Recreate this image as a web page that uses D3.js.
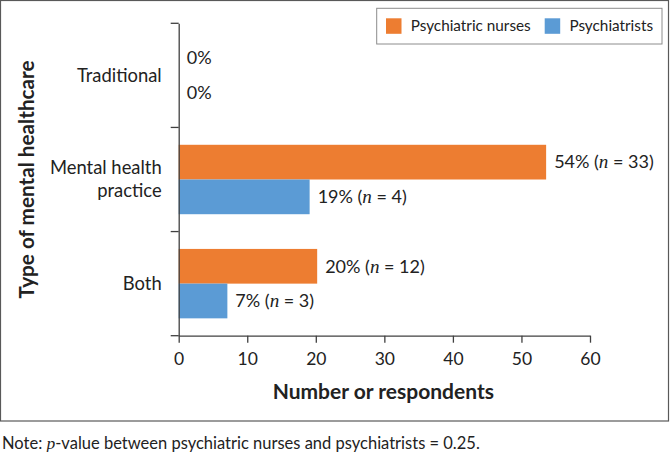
<!DOCTYPE html>
<html>
<head>
<meta charset="utf-8">
<script src="https://cdn.jsdelivr.net/npm/d3@7"></script>
<style>
  body { margin: 0; background: #fff; }
  text { font-family: Lato, "Open Sans", sans-serif; fill: #222; }
</style>
</head>
<body>
<svg id="chart" width="670" height="452"></svg>
<script>
// ---- data ----
const categories = ["Traditional", "Mental health practice", "Both"];
const categoryLines = [["Traditional"], ["Mental health", "practice"], ["Both"]];
const series = ["Psychiatric nurses", "Psychiatrists"];
const nursesValues = [0, 53.6, 20.2];
const psychiatristsValues = [0, 19.1, 7.1];
const nursesPct = [0, 54, 20];
const nursesN = [null, 33, 12];
const psychiatristsPct = [0, 19, 7];
const psychiatristsN = [null, 4, 3];
const xTicks = [0, 10, 20, 30, 40, 50, 60];
const colors = ["#ED7D31", "#5B9BD5"];

const svg = d3.select("#chart");

// frame
svg.append("rect").attr("x", 0.5).attr("y", 0.5).attr("width", 668).attr("height", 420.5)
  .attr("fill", "none").attr("stroke", "#595959").attr("stroke-width", 1.2);

const x = d3.scaleLinear().domain([0, 60]).range([178.7, 590]);
const y = d3.scaleBand().domain(categories).range([23.3, 335.7]).paddingInner(0).paddingOuter(0);
const sub = d3.scaleBand().domain(series).range([0, y.bandwidth()]).paddingInner(0).paddingOuter(0.5);

const rows = categories.map((c, i) => ({
  cat: c,
  vals: [
    { s: series[0], v: nursesValues[i], pct: nursesPct[i], n: nursesN[i] },
    { s: series[1], v: psychiatristsValues[i], pct: psychiatristsPct[i], n: psychiatristsN[i] }
  ]
}));

const g = svg.append("g");
const groups = g.selectAll("g.cat").data(rows).join("g")
  .attr("transform", d => `translate(0,${y(d.cat)})`);

groups.selectAll("rect").data(d => d.vals).join("rect")
  .attr("x", x(0))
  .attr("y", d => sub(d.s))
  .attr("width", d => x(d.v) - x(0))
  .attr("height", sub.bandwidth())
  .attr("fill", (d, i) => colors[i]);

const lbl = groups.selectAll("text.val").data(d => d.vals).join("text")
  .attr("class", "val")
  .attr("x", d => x(d.v) + 8)
  .attr("y", d => sub(d.s) + sub.bandwidth() / 2)
  .attr("dy", "0.35em")
  .style("font-size", "18px");
lbl.append("tspan").text(d => d.pct + "%" + (d.n != null ? " (" : ""));
lbl.filter(d => d.n != null).append("tspan")
  .style("font-family", "'Liberation Serif', 'DejaVu Serif', serif")
  .style("font-style", "italic").style("font-size", "19px").text("n");
lbl.filter(d => d.n != null).append("tspan").text(d => " = " + d.n + ")");

// y axis
const axisColor = "#404040";
const yAx = svg.append("g").attr("transform", `translate(${x(0)},0)`)
  .call(d3.axisLeft(y).tickSize(0).tickFormat(""));
yAx.select(".domain").attr("stroke", axisColor).attr("stroke-width", 1.3);
const bounds = categories.map(c => y(c)).concat([y.range()[1]]);
yAx.selectAll("line.bt").data(bounds).join("line").attr("class", "bt")
  .attr("x1", -8).attr("x2", 0).attr("y1", d => d).attr("y2", d => d)
  .attr("stroke", axisColor).attr("stroke-width", 1.3);

// category labels
const catLbl = svg.append("g").selectAll("text").data(categories).join("text")
  .attr("text-anchor", "end")
  .attr("x", x(0) - 17)
  .attr("y", (d, i) => y(d) + y.bandwidth() / 2 - (categoryLines[i].length - 1) * 11.5)
  .style("font-size", "18.4px");
catLbl.selectAll("tspan").data((d, i) => categoryLines[i]).join("tspan")
  .attr("x", x(0) - 17).attr("dy", (d, j) => j === 0 ? "0.35em" : "23px").text(d => d);

// x axis
const xAx = svg.append("g").attr("transform", `translate(0,${y.range()[1]})`)
  .call(d3.axisBottom(x).tickValues(xTicks).tickSize(7).tickPadding(10).tickSizeOuter(0));
xAx.select(".domain").attr("stroke", axisColor).attr("stroke-width", 1.3);
xAx.selectAll(".tick line").attr("stroke", axisColor).attr("stroke-width", 1.3);
xAx.selectAll(".tick text").style("font-family", "Lato, sans-serif").style("font-size", "17.5px").attr("fill", "#222");

// axis titles
svg.append("text").attr("x", (x.range()[0] + x.range()[1]) / 2 - 1).attr("y", 392).attr("dy", "0.35em")
  .attr("text-anchor", "middle").style("font-weight", "bold").style("font-size", "21px")
  .text("Number or respondents");
svg.append("text").attr("transform", `translate(27,${(y.range()[0] + y.range()[1]) / 2}) rotate(-90)`)
  .attr("dy", "0.35em").attr("text-anchor", "middle").style("font-weight", "bold").style("font-size", "20.7px")
  .text("Type of mental healthcare");

// legend
const leg = svg.append("g");
leg.append("rect").attr("x", 376.7).attr("y", 8.3).attr("width", 285.3).attr("height", 35.7)
  .attr("fill", "#fff").attr("stroke", "#8c8c8c").attr("stroke-width", 1);
const legX = [386, 544.7];
const li = leg.selectAll("g.li").data(series).join("g").attr("class", "li")
  .attr("transform", (d, i) => `translate(${legX[i]},18.3)`);
li.append("rect").attr("width", 15.5).attr("height", 15.5).attr("fill", (d, i) => colors[i]);
li.append("text").attr("x", 24.7).attr("y", 7.5).attr("dy", "0.35em").style("font-size", "15.3px").text(d => d);

// note
const note = svg.append("text").attr("x", 2).attr("y", 443).attr("dy", "0.35em").style("font-size", "16.5px");
note.append("tspan").text("Note: ");
note.append("tspan").style("font-family", "'Liberation Serif', serif").style("font-style", "italic").style("font-size", "17.5px").text("p");
note.append("tspan").text("-value between psychiatric nurses and psychiatrists = 0.25.");
</script>
</body>
</html>
